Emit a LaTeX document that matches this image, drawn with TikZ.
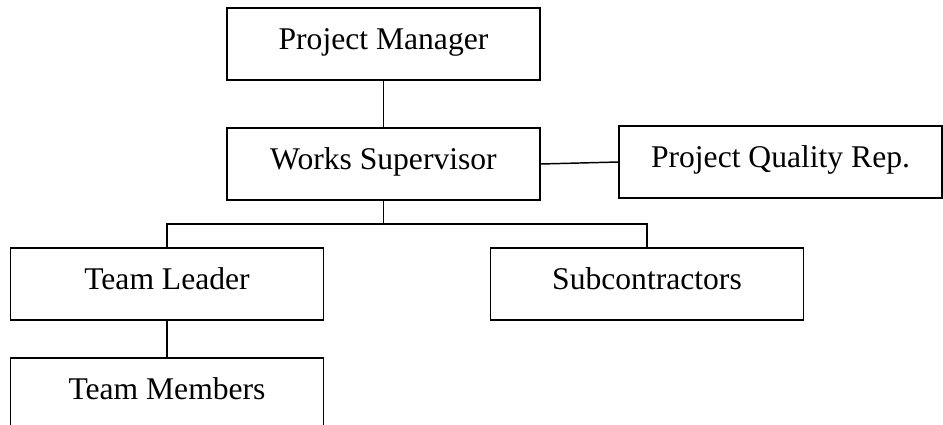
\documentclass[tikz,border=0pt]{standalone}
\usepackage{fontspec}
\setmainfont{Liberation Serif}
\usetikzlibrary{calc}
\usetikzlibrary{positioning}
\tikzstyle{role box}=[draw,line width=1.1pt,inner sep=0,minimum height=54pt,
  text height=16.5pt,text depth=9pt,font=\fontsize{23.7}{28}\selectfont]
\tikzstyle{link}=[line width=1.1pt]

\begin{document}
\begin{tikzpicture}[x=0.75pt,y=-0.75pt]
  
  \def\wbox{234.5pt} % width of the usual boxes
  \path[use as bounding box,clip] (0,0) rectangle (943,425);
  
  % BOXES
  \node[role box,minimum width=\wbox] (pm)  at (383.5,44)  {Project Manager};
  \node[role box,minimum width=\wbox] (ws)  at (383.5,164) {Works Supervisor};
  \node[role box,minimum width=242pt] (pqr) at (780.5,162) {Project Quality Rep.};
  \node[role box,minimum width=\wbox] (tl)  at (167,284)   {Team Leader};
  \node[role box,minimum width=\wbox] (sub) at (647,284)   {Subcontractors};
  \node[role box,minimum width=\wbox] (tm)  at (167,394)   {Team Members};
  
  % LINKS
  \coordinate (bus) at (383.5,224);
  \draw[link] (pm) -- (ws);
  \draw[link] (ws.east) -- (pqr.west);
  \draw[link] (ws) -- (bus);
  \draw[link] (tl.north) |- (bus) -| (sub.north);
  \draw[link] (tl) -- (tm);
  
\end{tikzpicture}
\end{document}
